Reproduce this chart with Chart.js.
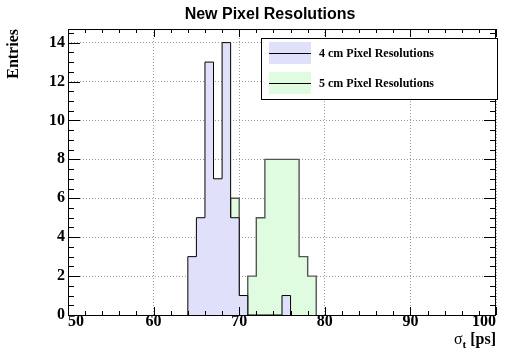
<!DOCTYPE html>
<html>
<head>
<meta charset="utf-8">
<script src="https://cdn.jsdelivr.net/npm/chart.js@4.4.1/dist/chart.umd.min.js"></script>
<style>
  html, body { margin: 0; padding: 0; background: #fff; }
</style>
</head>
<body>
<canvas id="resChart" width="506" height="358"></canvas>
<script>
// histogram content, 1 ps wide bins (lower edges)
const binLow = [64, 65, 66, 67, 68, 69, 70, 71, 72, 73, 74, 75, 76, 77, 78];
const counts4cm = [3, 5, 13, 7, 14, 5, 1, 0, 0, 0, 0, 1, 0, 0, 0];
const counts5cm = [0, 0, 0, 0, 0, 6, 0, 2, 5, 8, 8, 8, 8, 3, 2];
const seriesNames = ["4 cm Pixel Resolutions", "5 cm Pixel Resolutions"];
const xTickLabels = [50, 60, 70, 80, 90, 100];
const yTickLabels = [0, 2, 4, 6, 8, 10, 12, 14];

const fills = ["rgb(224, 224, 250)", "rgb(224, 252, 224)"];
const serif = "'Liberation Serif', 'Times New Roman', serif";

// turn bin counts into a closed step outline
function stepPoints(counts) {
  const first = counts.findIndex((c) => c > 0);
  let last = counts.length - 1;
  while (last > first && counts[last] === 0) last--;
  const pts = [{ x: binLow[first], y: 0 }];
  for (let i = first; i <= last; i++) pts.push({ x: binLow[i], y: counts[i] });
  pts.push({ x: binLow[last] + 1, y: counts[last] });
  pts.push({ x: binLow[last] + 1, y: 0 });
  return pts;
}

// ROOT-like frame: inside ticks on all four sides, title, legend box
const rootFrame = {
  id: "rootFrame",
  afterDraw(chart) {
    const { ctx, chartArea: a } = chart;
    const x = chart.scales.x;
    const y = chart.scales.y;
    ctx.save();
    ctx.strokeStyle = "#000";
    ctx.lineWidth = 1;
    ctx.beginPath();
    for (let v = x.min; v <= x.max; v += 2) {
      const px = Math.round(x.getPixelForValue(v)) + 0.5;
      const len = v % 10 === 0 ? 8 : 4;
      ctx.moveTo(px, a.bottom);
      ctx.lineTo(px, a.bottom - len);
      ctx.moveTo(px, a.top);
      ctx.lineTo(px, a.top + len);
    }
    for (let v = 0; v <= y.max; v += 0.5) {
      const py = Math.round(y.getPixelForValue(v)) + 0.5;
      const len = v % 2 === 0 ? 12 : 6;
      ctx.moveTo(a.left, py);
      ctx.lineTo(a.left + len, py);
      ctx.moveTo(a.right, py);
      ctx.lineTo(a.right - len, py);
    }
    ctx.stroke();
    ctx.strokeRect(Math.round(a.left) + 0.5, Math.round(a.top) + 0.5,
      Math.round(a.right - a.left) - 1, Math.round(a.bottom - a.top));

    // title
    ctx.fillStyle = "#000";
    ctx.font = "bold 16px 'Liberation Sans', Arial, sans-serif";
    ctx.textAlign = "center";
    ctx.textBaseline = "alphabetic";
    ctx.fillText("New Pixel Resolutions", 270, 19);

    // x axis title: sigma_t [ps]
    ctx.textAlign = "left";
    const sig = "\u03c3";
    const tail = " [ps]";
    ctx.font = "bold 16px " + serif;
    const wTail = ctx.measureText(tail).width;
    ctx.font = "bold 11px " + serif;
    const wSub = ctx.measureText("t").width;
    ctx.font = "16px " + serif;
    const wSig = ctx.measureText(sig).width;
    const tx = a.right - wTail - wSub - wSig;
    ctx.fillText(sig, tx, 344);
    ctx.font = "bold 11px " + serif;
    ctx.fillText("t", tx + wSig, 348);
    ctx.font = "bold 16px " + serif;
    ctx.fillText(tail, tx + wSig + wSub, 344);

    // legend
    const lx = 261, ly = 38, lw = a.right + 1 - 261, lh = 61;
    ctx.fillStyle = "#fff";
    ctx.fillRect(lx, ly, lw, lh);
    ctx.strokeRect(lx + 0.5, ly + 0.5, lw, lh);
    ctx.font = "bold 12px " + serif;
    ctx.textBaseline = "middle";
    seriesNames.forEach((name, i) => {
      const cy = 53 + i * 30;
      ctx.fillStyle = fills[i];
      ctx.fillRect(269, cy - 11, 42, 22);
      ctx.beginPath();
      ctx.moveTo(269, cy + 0.5);
      ctx.lineTo(311, cy + 0.5);
      ctx.stroke();
      ctx.fillStyle = "#000";
      ctx.fillText(name, 319, cy + 1);
    });
    ctx.restore();
  },
};

const tickFont = { family: serif, size: 16, weight: "bold" };

new Chart(document.getElementById("resChart"), {
  type: "line",
  data: {
    datasets: [
      {
        label: seriesNames[0],
        data: stepPoints(counts4cm),
        stepped: "before",
        fill: "origin",
        backgroundColor: fills[0],
        borderColor: "#000",
        borderWidth: 1,
        pointRadius: 0,
      },
      {
        label: seriesNames[1],
        data: stepPoints(counts5cm),
        stepped: "before",
        fill: "origin",
        backgroundColor: fills[1],
        borderColor: "#555",
        borderWidth: 1.4,
        pointRadius: 0,
      },
    ],
  },
  options: {
    responsive: false,
    animation: false,
    layout: { padding: { top: 29, right: 10, left: 0, bottom: 0 } },
    plugins: {
      legend: { display: false },
      tooltip: { enabled: false },
    },
    scales: {
      x: {
        type: "linear",
        min: xTickLabels[0],
        max: xTickLabels[xTickLabels.length - 1],
        ticks: { stepSize: 10, align: "inner", padding: -3, maxRotation: 0, color: "#000", font: tickFont },
        grid: { color: "#999", drawTicks: false },
        border: { display: false, dash: [1, 2] },
        afterFit(s) {
          s.height = 43;
          s.paddingLeft = 0;
          s.paddingRight = 0;
        },
      },
      y: {
        min: yTickLabels[0],
        max: 14.7,
        ticks: { stepSize: 2, includeBounds: false, padding: 3, color: "#000", font: tickFont },
        grid: { color: "#999", drawTicks: false },
        border: { display: false, dash: [1, 2] },
        title: {
          display: true,
          text: "Entries",
          align: "end",
          color: "#000",
          font: { family: serif, size: 16, weight: "bold" },
          padding: { top: 4, bottom: 0 },
        },
        afterFit(s) {
          s.width = 68;
          s.paddingTop = 0;
          s.paddingBottom = 0;
        },
      },
    },
  },
  plugins: [rootFrame],
});
</script>
</body>
</html>
